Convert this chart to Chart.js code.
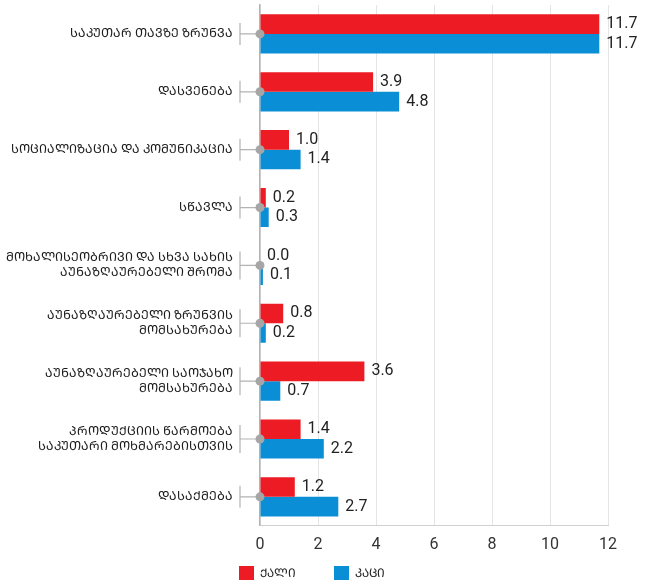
<!DOCTYPE html>
<html>
<head>
<meta charset="utf-8">
<script src="https://cdn.jsdelivr.net/npm/chart.js@4.4.1/dist/chart.umd.min.js"></script>
<style>
  html, body { margin: 0; padding: 0; background: #fff; overflow: hidden; }
  #wrap { position: relative; width: 646px; height: 628px; }
</style>
</head>
<body>
<div id="wrap"><canvas id="timeChart"></canvas></div>
<script>
// --- DATA ---
const categories = [
  ['საკუთარ თავზე ზრუნვა'],
  ['დასვენება'],
  ['სოციალიზაცია და კომუნიკაცია'],
  ['სწავლა'],
  ['მოხალისეობრივი და სხვა სახის', 'აუნაზღაურებელი შრომა'],
  ['აუნაზღაურებელი ზრუნვის', 'მომსახურება'],
  ['აუნაზღაურებელი საოჯახო', 'მომსახურება'],
  ['პროდუქციის წარმოება', 'საკუთარი მოხმარებისთვის'],
  ['დასაქმება']
];
const seriesNames = ['ქალი', 'კაცი'];
const women = [11.7, 3.9, 1.0, 0.2, 0.0, 0.8, 3.6, 1.4, 1.2];
const men   = [11.7, 4.8, 1.4, 0.3, 0.1, 0.2, 0.7, 2.2, 2.7];
const xTicks = [0, 2, 4, 6, 8, 10, 12];

const RED = '#ed1c24';
const BLUE = '#0a8fd6';
const FONT = 'Roboto, "Noto Sans", "DejaVu Sans", sans-serif';

// mkhedruli -> mtavruli (all-caps georgian)
function caps(s) {
  return Array.from(s).map(ch => {
    const c = ch.codePointAt(0);
    return (c >= 0x10D0 && c <= 0x10FA) ? String.fromCodePoint(c + 0xBC0) : ch;
  }).join('');
}

// value labels at the end of each bar
const barValues = {
  id: 'barValues',
  afterDatasetsDraw(chart) {
    const ctx = chart.ctx;
    ctx.save();
    ctx.font = '16px ' + FONT;
    ctx.fillStyle = '#222';
    ctx.textAlign = 'left';
    ctx.textBaseline = 'middle';
    chart.data.datasets.forEach((ds, di) => {
      chart.getDatasetMeta(di).data.forEach((bar, i) => {
        ctx.fillText(ds.data[i].toFixed(1), bar.x + 7, bar.y);
      });
    });
    ctx.restore();
  }
};

// bracket + dot marker next to each category label
const tickMarkers = {
  id: 'tickMarkers',
  afterDraw(chart) {
    const ctx = chart.ctx;
    const y = chart.scales.y;
    const x0 = chart.scales.x.getPixelForValue(0);
    ctx.save();
    ctx.strokeStyle = '#b3b3b3';
    ctx.fillStyle = '#a6a6a6';
    ctx.lineWidth = 1.2;
    categories.forEach((c, i) => {
      const py = y.getPixelForTick(i);
      const half = c.length > 1 ? 14 : 11;
      ctx.beginPath();
      ctx.moveTo(x0 - 20, py - half);
      ctx.lineTo(x0 - 20, py + half);
      ctx.moveTo(x0 - 20, py);
      ctx.lineTo(x0, py);
      ctx.stroke();
      ctx.beginPath();
      ctx.arc(x0, py, 4.5, 0, Math.PI * 2);
      ctx.fill();
    });
    ctx.restore();
  }
};

// legend keeps wide spacing between items but sits close under the axis
const legendLift = {
  id: 'legendLift',
  afterLayout(chart) {
    const lg = chart.legend;
    lg.top -= 37;
    lg.bottom -= 37;
    lg.left += 8;
    lg.right += 8;
  }
};

new Chart(document.getElementById('timeChart'), {
  type: 'bar',
  data: {
    labels: categories.map(l => l.map(caps)),
    datasets: [
      { label: caps(seriesNames[0]), data: women, backgroundColor: RED },
      { label: caps(seriesNames[1]), data: men, backgroundColor: BLUE }
    ]
  },
  options: {
    indexAxis: 'y',
    responsive: true,
    maintainAspectRatio: false,
    animation: false,
    categoryPercentage: 0.677,
    barPercentage: 1,
    layout: { padding: { top: 5, right: 38, left: 0, bottom: 0 } },
    plugins: {
      legend: {
        position: 'bottom',
        labels: {
          boxWidth: 15, boxHeight: 15, padding: 38,
          color: '#222', font: { family: FONT, size: 12 }
        }
      },
      tooltip: { enabled: false }
    },
    scales: {
      x: {
        min: 0, max: 12,
        afterBuildTicks: s => { s.ticks = xTicks.map(v => ({ value: v })); },
        grid: { color: '#e4e4e4', drawTicks: false },
        border: { color: '#d0d0d0' },
        ticks: { color: '#333', padding: 10, font: { family: FONT, size: 16 } }
      },
      y: {
        afterFit: s => { s.width = 260; s.paddingTop = 0; s.paddingBottom = 0; },
        grid: { display: false, drawTicks: false },
        border: { color: '#b3b3b3', width: 1.5 },
        ticks: { color: '#1a1a1a', padding: 27, font: { family: FONT, size: 12.5 } }
      }
    }
  },
  plugins: [barValues, tickMarkers, legendLift]
});
</script>
</body>
</html>
